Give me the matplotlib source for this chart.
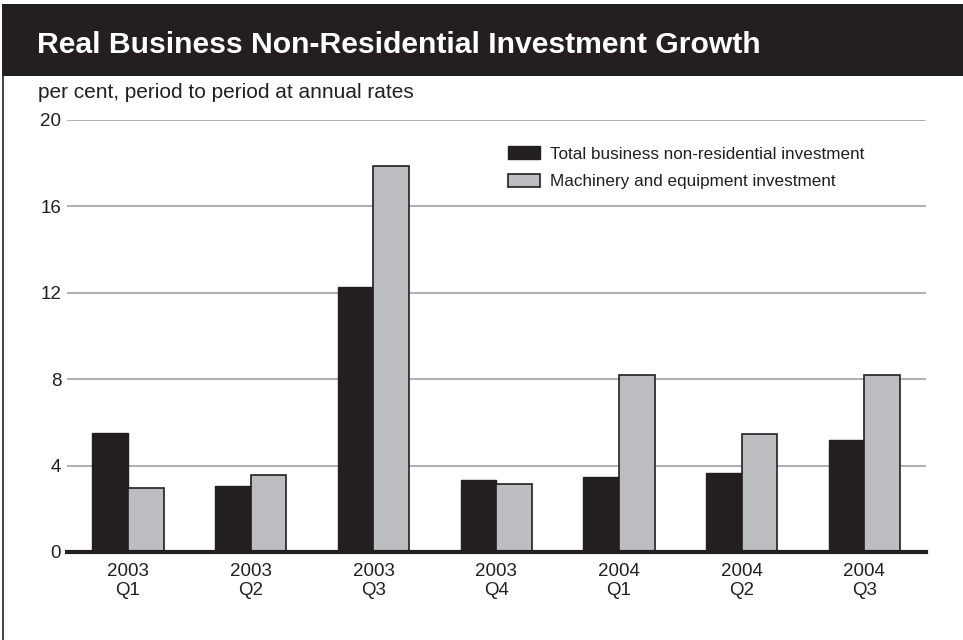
import matplotlib
matplotlib.use("Agg")
import matplotlib.pyplot as plt
from matplotlib import font_manager
import numpy as np

categories = ["2003\nQ1", "2003\nQ2", "2003\nQ3", "2003\nQ4", "2004\nQ1", "2004\nQ2", "2004\nQ3"]
total_business = [5.5, 3.07, 12.27, 3.32, 3.47, 3.67, 5.2]
machinery = [2.96, 3.58, 17.87, 3.16, 8.2, 5.48, 8.2]
series_names = ["Total business non-residential investment", "Machinery and equipment investment"]
yticks = [0, 4, 8, 12, 16, 20]
title = "Real Business Non-Residential Investment Growth"
subtitle = "per cent, period to period at annual rates"

names = {f.name for f in font_manager.fontManager.ttflist}
base = "Liberation Sans" if "Liberation Sans" in names else "DejaVu Sans"
plt.rcParams['font.family'] = [base, 'DejaVu Sans']

W, H = 963, 640
fig = plt.figure(figsize=(W / 100, H / 100), dpi=100)
dark = "#231f20"

# header band
fig.patches.append(plt.Rectangle((2 / W, 1 - 76 / H), 1 - 2 / W, 72 / H, transform=fig.transFigure,
                                 facecolor=dark, edgecolor="none", zorder=0))
# left border line
fig.lines.append(plt.Line2D([3 / W, 3 / W], [0, 1 - 76 / H], transform=fig.transFigure,
                            color=dark, lw=1.2))
fig.text(37 / W, 1 - 53 / H, title, color="white", fontsize=21.7, fontweight="bold",
         va="baseline", ha="left")
fig.text(38 / W, 1 - 98 / H, subtitle, color=dark, fontsize=15, va="baseline", ha="left")

left, right = 66.7 / W, 925.7 / W
bottom, top = 1 - 552 / H, 1 - 120 / H
ax = fig.add_axes([left, bottom, right - left, top - bottom])

x = np.arange(len(categories))
bw = 0.29
ax.bar(x - bw / 2, total_business, bw, color=dark, edgecolor=dark, lw=1.0,
       label=series_names[0], zorder=3)
ax.bar(x + bw / 2, machinery, bw, color="#bcbdc0", edgecolor=dark, lw=1.2,
       label=series_names[1], zorder=3)

ax.set_xlim(-0.5, 6.5)
ax.set_ylim(0, 20)
ax.set_yticks(yticks)
ax.set_yticklabels([str(v) for v in yticks], fontsize=13.5, color=dark)
ax.set_xticks(x)
ax.set_xticklabels(categories, fontsize=13.5, color=dark, linespacing=1.17)
ax.tick_params(axis="x", length=0, pad=8)
ax.tick_params(axis="y", length=0, pad=4)
for s in ["top", "right", "left"]:
    ax.spines[s].set_visible(False)
ax.spines["bottom"].set_linewidth(3)
ax.spines["bottom"].set_color(dark)
ax.spines["bottom"].set_zorder(4)
ax.yaxis.grid(True, color="#a7a9ac", lw=1.3, zorder=0)
ax.set_axisbelow(True)

leg = ax.legend(loc="upper left", bbox_to_anchor=(508 / W, 1 - 146 / H), bbox_transform=fig.transFigure,
                frameon=False, fontsize=12.3, borderpad=0,
                handlelength=1.87, handleheight=0.82, handletextpad=0.58, labelspacing=0.71,
                borderaxespad=0)
for t in leg.get_texts():
    t.set_color(dark)

fig.savefig("out.png", dpi=100)
